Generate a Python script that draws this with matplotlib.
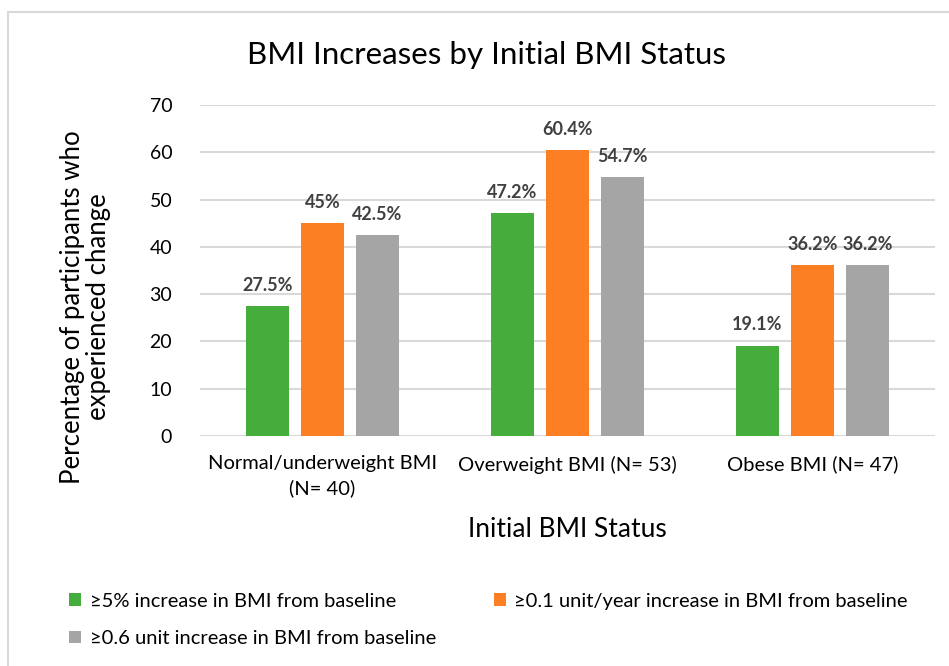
import matplotlib.pyplot as plt
from matplotlib.patches import Rectangle
import numpy as np

# categories and percentages per measure
categories = ['Normal/underweight BMI\n(N= 40)', 'Overweight BMI (N= 53)', 'Obese BMI (N= 47)']
series_names = ['≥5% increase in BMI from baseline',
                '≥0.1 unit/year increase in BMI from baseline',
                '≥0.6 unit increase in BMI from baseline']
pct_5 = [27.5, 47.2, 19.1]
pct_01 = [45.0, 60.4, 36.2]
pct_06 = [42.5, 54.7, 36.2]
value_labels = [['27.5%', '47.2%', '19.1%'],
                ['45%', '60.4%', '36.2%'],
                ['42.5%', '54.7%', '36.2%']]
colors = ['#44AD3C', '#FD7F23', '#A5A5A5']

plt.rcParams['font.family'] = ['Lato', 'DejaVu Sans']

fig = plt.figure(figsize=(9.49, 6.66), dpi=100)
ax = fig.add_axes([0.2107, 0.3453, 0.7743, 0.497])

# outer chart frame
fig.patches.append(Rectangle((8 / 949, -0.05), 1.2, 1 - 12 / 666 + 0.05,
                             transform=fig.transFigure, fill=False,
                             edgecolor='#D9D9D9', linewidth=1.5))

x = np.arange(len(categories))
width = 0.175
step = 0.225
handles = []
for i, (vals, col) in enumerate(zip([pct_5, pct_01, pct_06], colors)):
    b = ax.bar(x + (i - 1) * step, vals, width, color=col, label=series_names[i], zorder=3)
    handles.append(b)
    for xi, v, lab in zip(x + (i - 1) * step, vals, value_labels[i]):
        ax.text(xi, v + 2.6, lab, ha='center', va='bottom', fontsize=13,
                fontweight='bold', color='#404040')

ax.set_xlim(-0.5, 2.5)
ax.set_ylim(0, 70)
ax.set_yticks(range(0, 71, 10))
ax.yaxis.grid(True, color='#D9D9D9', linewidth=1.5, zorder=0)
ax.set_axisbelow(True)
for s in ax.spines.values():
    s.set_visible(False)
ax.tick_params(axis='both', length=0, labelsize=14, labelcolor='#000000')
ax.tick_params(axis='y', pad=20)
ax.tick_params(axis='x', pad=14)
ax.set_xticks(x)
ax.set_xticklabels(categories, fontsize=14.5, linespacing=1.45)

ax.set_xlabel('Initial BMI Status', fontsize=19, labelpad=14)
fig.text(0.09, 0.539, 'Percentage of participants who\nexperienced change', rotation=90,
         ha='center', va='center', fontsize=18.5, linespacing=1.05)
fig.text(0.513, 0.918, 'BMI Increases by Initial BMI Status', ha='center', va='center',
         fontsize=22.5)

# legend filled column-wise: green/grey in first column, orange in second
order = [0, 2, 1]
fig.legend(handles=[handles[k] for k in order], labels=[series_names[k] for k in order],
           ncol=2, loc='upper left',
           bbox_to_anchor=(0.054, 0.137), frameon=False, fontsize=14.5,
           handlelength=0.6, handleheight=0.6, handletextpad=0.4,
           columnspacing=2.9, labelspacing=1.0)

plt.savefig('out.png', dpi=100)
